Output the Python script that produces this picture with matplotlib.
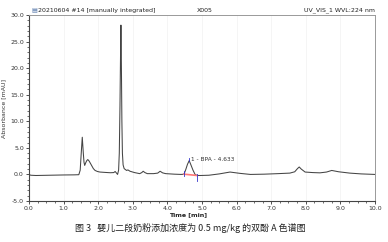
import matplotlib
matplotlib.use("Agg")
import matplotlib.pyplot as plt
from matplotlib.ticker import MultipleLocator

# chromatogram trace (time [min], absorbance [mAU])
time = [0.00, 0.05, 0.20, 0.60, 1.00, 1.30, 1.44, 1.48, 1.51, 1.54, 1.57, 1.59, 1.61,
        1.64, 1.67, 1.70, 1.74, 1.80, 1.86, 1.91, 1.98, 2.05, 2.20, 2.35, 2.45,
        2.49, 2.53, 2.56, 2.59, 2.61, 2.63, 2.645, 2.657, 2.67, 2.685, 2.70, 2.72,
        2.75, 2.78, 2.82, 2.86, 2.92, 3.05, 3.20, 3.26, 3.30, 3.35, 3.42, 3.60,
        3.72, 3.79, 3.86, 3.95, 4.20, 4.40, 4.48, 4.53, 4.58, 4.63, 4.68, 4.74,
        4.80, 4.86, 4.95, 5.20, 5.50, 5.81, 6.10, 6.40, 6.80, 7.20, 7.54, 7.68,
        7.76, 7.81, 7.87, 7.98, 8.20, 8.41, 8.60, 8.75, 8.95, 9.27, 9.60, 10.00]
absorbance = [0.00, -0.15, -0.20, -0.15, -0.10, -0.08, -0.05, 0.8, 4.0, 7.0, 4.0, 2.3, 1.7,
              2.2, 2.6, 2.8, 2.5, 1.8, 1.1, 0.75, 0.55, 0.45, 0.38, 0.32, 0.35,
              0.55, 0.25, 0.00, 0.8, 4.0, 13.0, 22.0, 28.1, 21.0, 10.0, 4.0, 1.8,
              1.1, 0.95, 0.75, 0.85, 0.60, 0.35, 0.15, 0.35, 0.60, 0.35, 0.15, 0.15,
              0.25, 0.60, 0.30, 0.15, 0.05, 0.00, 0.05, 0.9, 1.9, 2.6, 1.8, 0.8,
              0.0, -0.20, -0.20, -0.15, 0.10, 0.45, 0.20, 0.00, 0.05, 0.15, 0.25, 0.50,
              1.10, 1.40, 1.00, 0.45, 0.35, 0.30, 0.45, 0.75, 0.50, 0.25, 0.10, 0.00]

# integration of peak 1 (BPA)
bpa_start, bpa_end = 4.48, 4.86
bpa_start_y, bpa_end_y = 0.05, -0.20
bpa_rt, bpa_height = 4.633, 2.6
bpa_label = "1 - BPA - 4.633"

fig = plt.figure(figsize=(3.88, 2.42), dpi=100)
ax = fig.add_axes([0.0747, 0.1694, 0.8918, 0.7686])

ax.plot(time, absorbance, color="#444444", lw=0.75)
ax.plot([bpa_start, bpa_end], [bpa_start_y, bpa_end_y], color="#ff7777", lw=1.2)
ax.plot([bpa_start, bpa_start], [bpa_start_y - 0.4, bpa_start_y + 0.6], color="#3333cc", lw=0.6)
ax.plot([bpa_end, bpa_end], [bpa_end_y - 1.0, bpa_end_y + 0.3], color="#3333cc", lw=0.6)
ax.plot([bpa_rt, bpa_rt], [bpa_height, bpa_height + 0.5], color="#3333cc", lw=0.6)
ax.text(bpa_rt + 0.04, bpa_height + 0.25, bpa_label, fontsize=4.2, color="#333333",
        va="center", ha="left")

ax.set_xlim(0, 10)
ax.set_ylim(-5, 30)
ax.xaxis.set_major_locator(MultipleLocator(1))
ax.xaxis.set_minor_locator(MultipleLocator(0.25))
ax.yaxis.set_major_locator(MultipleLocator(5))
ax.yaxis.set_minor_locator(MultipleLocator(1))
ax.xaxis.set_major_formatter(plt.FuncFormatter(lambda v, p: f"{v:.1f}"))
ax.yaxis.set_major_formatter(plt.FuncFormatter(lambda v, p: f"{v:.1f}"))
ax.tick_params(axis="both", which="major", labelsize=4.5, length=2.5, width=0.6,
               pad=1.2, colors="#333333")
ax.tick_params(axis="both", which="minor", length=1.3, width=0.5, colors="#333333")
ax.grid(axis="x", which="major", color="#f2f2f2", lw=0.5)

for s in ["left", "bottom"]:
    ax.spines[s].set_color("#444444")
    ax.spines[s].set_linewidth(0.8)
for s in ["top", "right"]:
    ax.spines[s].set_color("#999999")
    ax.spines[s].set_linewidth(0.7)

ax.set_ylabel("Absorbance [mAU]", fontsize=4.5, color="#333333", labelpad=2.5)
ax.text(4.6, -7.6, "Time [min]", fontsize=4.5, color="#222222", ha="center",
        va="center", fontweight="bold")

fig.text(0.081, 0.958, "\u25a4", fontsize=4.5, color="#5577aa", va="center")
fig.text(0.097, 0.958, "20210604 #14 [manually integrated]", fontsize=4.5,
         color="#222222", va="center")
fig.text(0.527, 0.958, "X005", fontsize=4.5, color="#222222", va="center", ha="center")
fig.text(0.966, 0.958, "UV_VIS_1 WVL:224 nm", fontsize=4.5, color="#222222",
         va="center", ha="right")

fig.text(0.49, 0.058, "图 3   婴儿二段奶粉添加浓度为 0.5 mg/kg 的双酚 A 色谱图",
         fontsize=6.5, color="#222222", ha="center", va="center",
         family=["Noto Sans CJK SC", "DejaVu Sans"])

fig.savefig("out.png", dpi=100)
